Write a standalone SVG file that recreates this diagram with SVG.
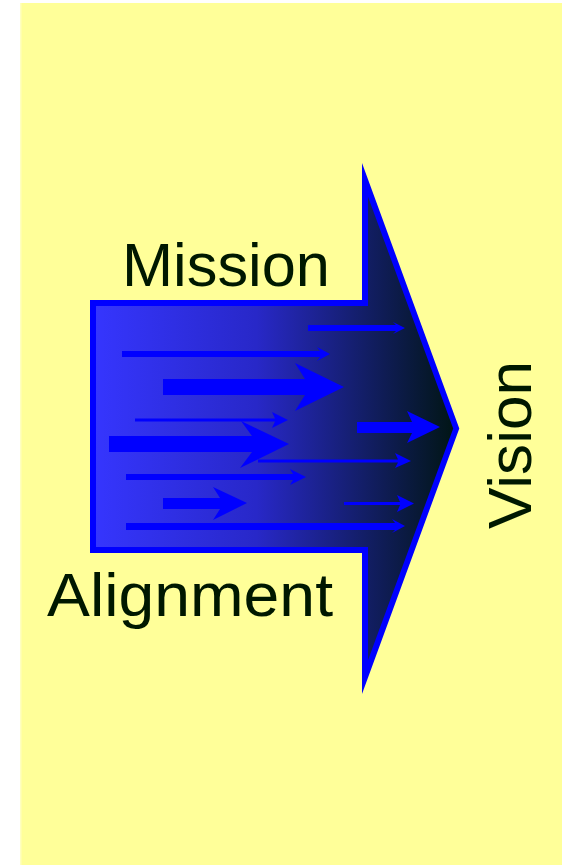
<svg xmlns="http://www.w3.org/2000/svg" width="562" height="865" viewBox="0 0 562 865">
<defs>
<linearGradient id="g" x1="90" y1="0" x2="460" y2="0" gradientUnits="userSpaceOnUse">
<stop offset="0" stop-color="#3636FF"/>
<stop offset="0.45" stop-color="#2828C8"/>
<stop offset="1" stop-color="#001510"/>
</linearGradient>
<style>
.lbl{font-family:"Liberation Sans",Arial,sans-serif;font-size:62px;fill:#001800}
.a{fill:#0000FF}
</style>
</defs>
<rect x="20" y="3" width="542" height="862" fill="#FFFF99"/>
<rect x="20" y="3" width="1.5" height="862" fill="#FFFFC0"/>
<g id="big-arrow">
<path d="M90,300 H362 V163 L459.3,428.5 L362,694 V553 H90 Z" fill="#0000FF"/>
<path d="M96,306 H368 V196.7 L453.2,428.5 L368,660.3 V547 H96 Z" fill="url(#g)"/>
</g>
<g id="flow-arrows">
<polygon class="a" points="308,325 396,325 393,322 405,328 393,334 396,331 308,331"/>
<polygon class="a" points="122,351 320,351 317,347 330,354 317,361 320,357 122,357"/>
<polygon class="a" points="163,379 305,379 295,363 344,387 295,411 305,395 163,395"/>
<polygon class="a" points="135,418.5 275,418.5 272,412 288,420 272,428 275,421.5 135,421.5"/>
<polygon class="a" points="109,436 252,436 241,421 289,444 240,468 252,452 109,452"/>
<polygon class="a" points="258,459.5 398,459.5 395,453 411,461 395,468 398,462.5 258,462.5"/>
<polygon class="a" points="126,474 293,474 290,469 306,477 290,485 293,480 126,480"/>
<polygon class="a" points="163,498 220,498 213,487 247,503 213,520 220,509 163,509"/>
<polygon class="a" points="344,502 400,502 397,495 414,503.5 397,512 400,505 344,505"/>
<polygon class="a" points="126,523 395,523 392,519 405,526 392,533 395,530 126,530"/>
<polygon class="a" points="357,422 412,422 407,411 440,427 407,443 412,433 357,433"/>
</g>
<g id="label-mission"><text class="lbl" x="122" y="285.5" textLength="208" lengthAdjust="spacingAndGlyphs">Mission</text></g>
<g id="label-alignment"><text class="lbl" x="47" y="616" textLength="286" lengthAdjust="spacingAndGlyphs">Alignment</text></g>
<g id="label-vision"><text class="lbl" transform="translate(531,529) rotate(-90)" textLength="168" lengthAdjust="spacingAndGlyphs">Vision</text></g>
</svg>
